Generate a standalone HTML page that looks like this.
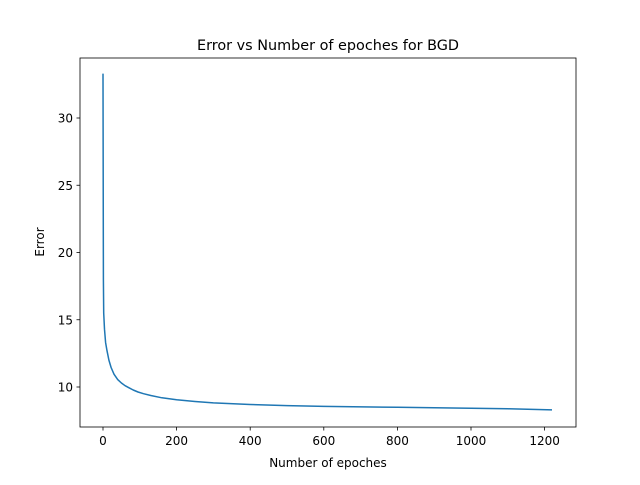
<!DOCTYPE html>
<html><head><meta charset="utf-8"><style>
body{margin:0;background:#fff;}
svg text{font-family:"DejaVu Sans","Liberation Sans",sans-serif;fill:#000;}
</style></head><body>
<svg id="chart" width="640" height="480" viewBox="0 0 640 480" xmlns="http://www.w3.org/2000/svg">
<rect width="640" height="480" fill="#fff"/>
<text x="328" y="50" font-size="14.4" text-anchor="middle">Error vs Number of epoches for BGD</text>
<g id="xt"></g><g id="yt"></g>
<path id="line" fill="none" stroke="#1f77b4" stroke-width="1.5" stroke-linejoin="round"/>
<rect x="80" y="58" width="496" height="369" fill="none" stroke="#000" stroke-width="0.8"/>
<text x="328" y="467" font-size="12" text-anchor="middle">Number of epoches</text>
<text transform="translate(44,242) rotate(-90)" font-size="12" text-anchor="middle">Error</text>
</svg>
<script>
const epochs=[0,1,2,4,7,11,16,22,30,40,50,60,70,82,95,110,130,160,200,250,300,400,500,600,800,1000,1100,1220];
const errors=[33.3,18,15.5,14.3,13.3,12.7,12.0,11.45,10.95,10.55,10.3,10.1,9.95,9.78,9.63,9.5,9.37,9.2,9.05,8.92,8.82,8.7,8.62,8.56,8.49,8.42,8.38,8.3];
const xTicks=[0,200,400,600,800,1000,1200];
const yTicks=[10,15,20,25,30];
const ns="http://www.w3.org/2000/svg";
const x=v=>103+v*0.368;
const y=v=>387-(v-10)*13.45;
document.getElementById('line').setAttribute('d',epochs.map((e,i)=>(i?'L':'M')+x(e).toFixed(1)+','+y(errors[i]).toFixed(1)).join(''));
const xt=document.getElementById('xt'),yt=document.getElementById('yt');
xTicks.forEach(t=>{
 const l=document.createElementNS(ns,'line');
 
 
 l.setAttribute('x1',x(t));l.setAttribute('x2',x(t));l.setAttribute('y1',427);l.setAttribute('y2',430.5);l.setAttribute('stroke','#000');l.setAttribute('stroke-width','0.8');xt.appendChild(l);
 const s=document.createElementNS(ns,'text');
 
 
 s.setAttribute('x',x(t));s.setAttribute('y',445);s.setAttribute('font-size','12');s.setAttribute('text-anchor','middle');s.textContent=t;xt.appendChild(s);
});
yTicks.forEach(t=>{
 const l=document.createElementNS(ns,'line');
 
 
 l.setAttribute('x1',76.5);l.setAttribute('x2',80);l.setAttribute('y1',y(t));l.setAttribute('y2',y(t));l.setAttribute('stroke','#000');l.setAttribute('stroke-width','0.8');yt.appendChild(l);
 const s=document.createElementNS(ns,'text');
 
 
 s.setAttribute('x',73);s.setAttribute('y',y(t)+4.5);s.setAttribute('font-size','12');s.setAttribute('text-anchor','end');s.textContent=t;yt.appendChild(s);
});
</script>
</body></html>
